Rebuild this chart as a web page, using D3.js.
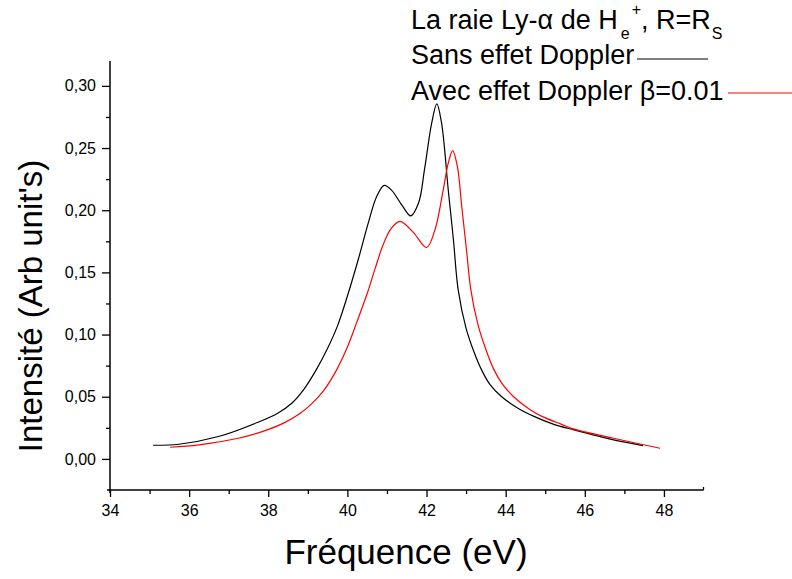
<!doctype html>
<html lang="fr">
<head>
  <meta charset="utf-8">
  <title>Raie Ly-α</title>
  <style>
    body { margin: 0; background: #fff; }
    text { font-family: "Liberation Sans", Arial, sans-serif; fill: #000; }
  </style>
</head>
<body>
  <div id="chart"></div>
  <script src="https://d3js.org/d3.v7.min.js"></script>
  <script>
    // Data ----------------------------------------------------------------------
    const freqNoDoppler = [35.09, 35.74, 36.74, 37.74, 38.25, 38.60, 38.90, 39.20, 39.50, 39.75, 40.00, 40.28,
      40.53, 40.74, 40.93, 41.12, 41.40, 41.60, 41.80, 41.95, 42.13, 42.26, 42.38, 42.55, 42.68, 42.80,
      43.00, 43.20, 43.40, 43.60, 43.90, 44.30, 44.73, 45.20, 45.73, 46.73, 47.47];
    const intNoDoppler = [0.0110, 0.0118, 0.0180, 0.0295, 0.0370, 0.0450, 0.0560, 0.0710, 0.0890, 0.1070, 0.1310, 0.1610,
      0.1900, 0.2110, 0.2200, 0.2160, 0.2030, 0.1955, 0.2060, 0.2330, 0.2700, 0.2856, 0.2700, 0.2160, 0.1760, 0.1360,
      0.1050, 0.0860, 0.0710, 0.0600, 0.0500, 0.0410, 0.0340, 0.0280, 0.0233, 0.0153, 0.0107];

    const freqDoppler = [35.52, 36.24, 37.24, 37.90, 38.40, 38.80, 39.10, 39.40, 39.70, 40.00, 40.25, 40.50,
      40.70, 40.90, 41.10, 41.33, 41.67, 42.00, 42.21, 42.42, 42.55, 42.66, 42.78, 42.89, 43.01, 43.12,
      43.30, 43.50, 43.70, 43.90, 44.20, 44.60, 44.93, 45.40, 45.73, 46.73, 47.90];
    const intDoppler = [0.0094, 0.0113, 0.0166, 0.0225, 0.0290, 0.0365, 0.0445, 0.0550, 0.0700, 0.0900, 0.1110, 0.1330,
      0.1530, 0.1720, 0.1850, 0.1910, 0.1820, 0.1700, 0.1840, 0.2160, 0.2380, 0.2480, 0.2350, 0.2030, 0.1680, 0.1360,
      0.1080, 0.0880, 0.0720, 0.0610, 0.0500, 0.0400, 0.0340, 0.0280, 0.0240, 0.0166, 0.0086];

    const xTicks = [34, 36, 38, 40, 42, 44, 46, 48];
    const yTicks = [0, 0.05, 0.10, 0.15, 0.20, 0.25, 0.30];

    // Layout --------------------------------------------------------------------
    const width = 792;
    const height = 579;

    const svg = d3.select("#chart")
      .append("svg")
      .attr("width", width)
      .attr("height", height);

    const x = d3.scaleLinear().domain([34, 49]).range([110, 703.5]);
    const y = d3.scaleLinear().domain([-0.025, 0.32]).range([490, 61]);

    // Axes ----------------------------------------------------------------------
    const fmt = d => d3.format(".2f")(d).replace(".", ",");

    // minor ticks
    svg.append("g")
      .attr("transform", "translate(0," + y(-0.025) + ")")
      .call(d3.axisBottom(x).tickValues(d3.range(35, 49, 2)).tickSize(4).tickFormat(""))
      .call(g => g.select(".domain").remove());
    svg.append("g")
      .attr("transform", "translate(" + x(34) + ",0)")
      .call(d3.axisLeft(y).tickValues(d3.range(0.025, 0.32, 0.05)).tickSize(4).tickFormat(""))
      .call(g => g.select(".domain").remove());

    // major ticks + labels
    svg.append("g")
      .attr("transform", "translate(0," + y(-0.025) + ")")
      .call(d3.axisBottom(x).tickValues(xTicks).tickSize(7).tickPadding(8))
      .call(g => g.select(".domain").remove())
      .call(g => g.selectAll("text").style("font-size", "16px").attr("font-family", null));
    svg.append("g")
      .attr("transform", "translate(" + x(34) + ",0)")
      .call(d3.axisLeft(y).tickValues(yTicks).tickSize(8).tickPadding(6).tickFormat(fmt))
      .call(g => g.select(".domain").remove())
      .call(g => g.selectAll("text").style("font-size", "16px").attr("font-family", null));

    svg.selectAll(".tick line").attr("stroke", "#000").attr("stroke-width", 1.3);

    // axis lines
    svg.append("line")
      .attr("x1", x(34)).attr("x2", x(34))
      .attr("y1", y(0.32)).attr("y2", y(-0.025) + 3)
      .attr("stroke", "#000").attr("stroke-width", 1.5);
    svg.append("line")
      .attr("x1", x(34) - 3).attr("x2", x(49))
      .attr("y1", y(-0.025)).attr("y2", y(-0.025))
      .attr("stroke", "#000").attr("stroke-width", 1.5);
    svg.append("line")
      .attr("x1", x(49)).attr("x2", x(49))
      .attr("y1", y(-0.025)).attr("y2", y(-0.025) - 3)
      .attr("stroke", "#000").attr("stroke-width", 1.3);

    // axis titles
    svg.append("text")
      .attr("x", 406)
      .attr("y", 564)
      .attr("text-anchor", "middle")
      .style("font-size", "35px")
      .text("Fréquence (eV)");

    svg.append("text")
      .attr("transform", "translate(42,306) rotate(-90)")
      .attr("text-anchor", "middle")
      .style("font-size", "33px")
      .text("Intensité (Arb unit's)");

    // Curves --------------------------------------------------------------------
    const line = d3.line()
      .x(d => x(d[0]))
      .y(d => y(d[1]))
      .curve(d3.curveCatmullRom.alpha(0.5));

    svg.append("path")
      .datum(d3.zip(freqNoDoppler, intNoDoppler))
      .attr("fill", "none")
      .attr("stroke", "#000")
      .attr("stroke-width", 1.2)
      .attr("d", line);

    svg.append("path")
      .datum(d3.zip(freqDoppler, intDoppler))
      .attr("fill", "none")
      .attr("stroke", "#ff0000")
      .attr("stroke-width", 1.2)
      .attr("d", line);

    // Legend --------------------------------------------------------------------
    const title = svg.append("text")
      .attr("x", 411)
      .attr("y", 29)
      .style("font-size", "27px");
    title.append("tspan").text("La raie Ly-α de H");
    title.append("tspan").attr("dx", 3).attr("dy", 10).style("font-size", "16px").text("e");
    title.append("tspan").attr("dx", 2).attr("dy", -24).style("font-size", "16px").text("+");
    title.append("tspan").attr("dy", 14).text(", R=R");
    title.append("tspan").attr("dx", 1).attr("dy", 10).style("font-size", "16px").text("S");

    svg.append("text")
      .attr("x", 411)
      .attr("y", 64)
      .style("font-size", "27px")
      .text("Sans effet Doppler");
    svg.append("line")
      .attr("x1", 637).attr("x2", 708)
      .attr("y1", 59).attr("y2", 59)
      .attr("stroke", "#000").attr("stroke-width", 1.2);

    svg.append("text")
      .attr("x", 411)
      .attr("y", 100)
      .style("font-size", "27px")
      .text("Avec effet Doppler β=0.01");
    svg.append("line")
      .attr("x1", 728).attr("x2", 792)
      .attr("y1", 93).attr("y2", 93)
      .attr("stroke", "#ff0000").attr("stroke-width", 1.2);
  </script>
</body>
</html>
